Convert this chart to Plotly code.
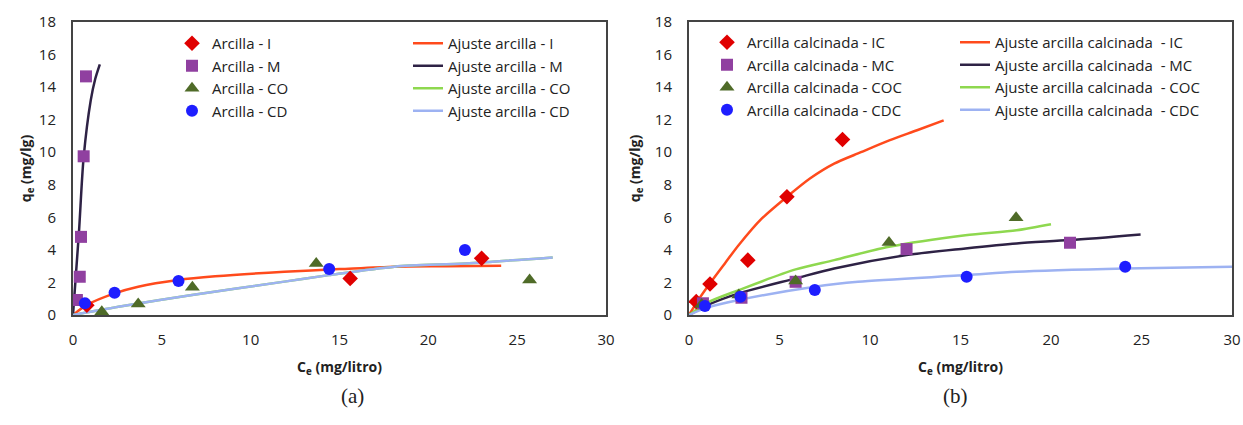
import plotly.graph_objects as go

# ---------- data: panel (a) arcilla ----------
I_x = [0.78, 15.6, 23.0]
I_y = [0.6, 2.25, 3.48]
M_x = [0.22, 0.38, 0.45, 0.6, 0.73]
M_y = [0.92, 2.35, 4.8, 9.75, 14.66]
CO_x = [1.62, 3.67, 6.72, 13.69, 25.7]
CO_y = [0.2, 0.67, 1.7, 3.17, 2.15]
CD_x = [0.67, 2.34, 5.94, 14.42, 22.06]
CD_y = [0.72, 1.37, 2.09, 2.82, 3.99]

fitI_x = [0, 0.78, 2.34, 3.67, 5.9, 8.0, 11.9, 15.0, 18.1, 21.0, 24.1]
fitI_y = [0, 0.62, 1.33, 1.74, 2.15, 2.38, 2.66, 2.82, 2.97, 3.0, 3.03]
fitM_x = [0, 0.33, 0.6, 1.0, 1.25, 1.51]
fitM_y = [0, 5.0, 9.7, 13.2, 14.5, 15.4]
fitCD_x = [0, 2.56, 6.7, 11.9, 14.4, 18.1, 22.1, 27.0]
fitCD_y = [0, 0.51, 1.23, 2.05, 2.45, 2.97, 3.17, 3.54]
fitCO_x = fitCD_x
fitCO_y = fitCD_y

# ---------- data: panel (b) arcilla calcinada ----------
IC_x = [0.4, 1.16, 3.25, 5.41, 8.48]
IC_y = [0.82, 1.9, 3.37, 7.26, 10.78]
MC_x = [0.77, 2.9, 5.89, 12.02, 21.05]
MC_y = [0.72, 1.06, 2.04, 4.05, 4.44]
COC_x = [0.7, 2.75, 5.89, 11.05, 18.07]
COC_y = [0.65, 1.23, 2.09, 4.46, 5.97]
CDC_x = [0.88, 2.84, 6.95, 15.34, 24.1]
CDC_y = [0.55, 1.12, 1.53, 2.35, 2.97]

fitIC_x = [0, 0.5, 1.16, 2.0, 2.75, 4.0, 5.41, 6.7, 8.02, 9.5, 11.1, 12.6, 14.07]
fitIC_y = [0, 0.9, 1.95, 3.2, 4.3, 5.9, 7.26, 8.4, 9.3, 10.0, 10.74, 11.35, 11.96]
fitMC_x = [0, 1.0, 2.75, 5.89, 8.02, 12.02, 15.27, 18.1, 21.05, 24.95]
fitMC_y = [0, 0.6, 1.33, 2.25, 2.86, 3.68, 4.09, 4.4, 4.6, 4.95]
fitCOC_x = [0, 1.0, 2.75, 5.89, 8.02, 11.05, 15.27, 18.1, 20.0]
fitCOC_y = [0, 0.75, 1.53, 2.8, 3.37, 4.19, 4.9, 5.21, 5.58]
fitCDC_x = [0, 1.0, 2.75, 6.95, 9.34, 15.34, 18.1, 24.1, 30.0]
fitCDC_y = [0, 0.45, 0.92, 1.74, 2.04, 2.45, 2.66, 2.86, 2.97]

x_ticks = [0, 5, 10, 15, 20, 25, 30]
y_ticks = [0, 2, 4, 6, 8, 10, 12, 14, 16, 18]

RED, PURPLE, OLIVE, BLUE = "#E00000", "#9040A0", "#4F6B28", "#1E1EFF"
L_RED, L_NAVY, L_GREEN, L_BLUE = "#FF4A1C", "#2E2245", "#8ED84F", "#9DB2F2"

FONT = "Open Sans"
fig = go.Figure()

def line(x, y, name, color, xa, ya, leg):
    fig.add_trace(go.Scatter(x=x, y=y, mode="lines", name=name,
                             line=dict(color=color, width=2.5, shape="spline", smoothing=0.8),
                             xaxis=xa, yaxis=ya, legend=leg))

def pts(x, y, name, color, sym, size, xa, ya, leg):
    fig.add_trace(go.Scatter(x=x, y=y, mode="markers", name=name,
                             marker=dict(color=color, symbol=sym, size=size),
                             xaxis=xa, yaxis=ya, legend=leg))

# panel a
line(fitI_x, fitI_y, "Ajuste arcilla - I", L_RED, "x", "y", "legend2")
line(fitM_x, fitM_y, "Ajuste arcilla - M", L_NAVY, "x", "y", "legend2")
line(fitCO_x, fitCO_y, "Ajuste arcilla - CO", L_GREEN, "x", "y", "legend2")
line(fitCD_x, fitCD_y, "Ajuste arcilla - CD", L_BLUE, "x", "y", "legend2")
pts(I_x, I_y, "Arcilla - I", RED, "diamond", 12, "x", "y", "legend")
pts(M_x, M_y, "Arcilla - M", PURPLE, "square", 12, "x", "y", "legend")
pts(CO_x, CO_y, "Arcilla - CO", OLIVE, "triangle-up", 13, "x", "y", "legend")
pts(CD_x, CD_y, "Arcilla - CD", BLUE, "circle", 12, "x", "y", "legend")

# panel b
line(fitIC_x, fitIC_y, "Ajuste arcilla calcinada  - IC", L_RED, "x2", "y2", "legend4")
line(fitMC_x, fitMC_y, "Ajuste arcilla calcinada  - MC", L_NAVY, "x2", "y2", "legend4")
line(fitCOC_x, fitCOC_y, "Ajuste arcilla calcinada  - COC", L_GREEN, "x2", "y2", "legend4")
line(fitCDC_x, fitCDC_y, "Ajuste arcilla calcinada  - CDC", L_BLUE, "x2", "y2", "legend4")
pts(IC_x, IC_y, "Arcilla calcinada - IC", RED, "diamond", 12, "x2", "y2", "legend3")
pts(MC_x, MC_y, "Arcilla calcinada - MC", PURPLE, "square", 12, "x2", "y2", "legend3")
pts(COC_x, COC_y, "Arcilla calcinada - COC", OLIVE, "triangle-up", 13, "x2", "y2", "legend3")
pts(CDC_x, CDC_y, "Arcilla calcinada - CDC", BLUE, "circle", 12, "x2", "y2", "legend3")

W, H = 1243, 425
ML, MR, MT, MB = 73, 11, 22, 110
PW, PH = W - ML - MR, H - MT - MB

def px_x(p):  # figure pixel -> paper x (plot-area relative)
    return (p - ML) / PW

def px_y(p):
    return 1 - (p - MT) / PH

axis_common = dict(showline=True, mirror=True, linecolor="#444444", linewidth=2,
                   showgrid=False, zeroline=False, ticks="", automargin=False,
                   tickfont=dict(family=FONT, size=15, color="#222"))

xtitle = dict(text="<b>C<sub>e</sub> (mg/litro)</b>", font=dict(family=FONT, size=14, color="#222"), standoff=14)
ytitle1 = dict(text="<b>q<sub>e</sub> (mg/lg)</b>", font=dict(family=FONT, size=14, color="#222"), standoff=4)
ytitle2 = dict(text="<b>q<sub>e</sub> (mg/lg)</b>", font=dict(family=FONT, size=14, color="#222"), standoff=11)

fig.update_layout(
    width=W, height=H,
    paper_bgcolor="white", plot_bgcolor="white",
    margin=dict(l=ML, r=MR, t=MT, b=MB, autoexpand=False),
    showlegend=True,
    xaxis=dict(domain=[0, px_x(606)], range=[0, 30], tickvals=x_ticks,
               anchor="y", title=xtitle, ticklabelstandoff=10, **axis_common),
    yaxis=dict(domain=[0, 1], range=[0, 18], tickvals=y_ticks,
               anchor="x", title=ytitle1, ticklabelstandoff=12, **axis_common),
    xaxis2=dict(domain=[px_x(689), 1], range=[0, 30], tickvals=x_ticks,
                anchor="y2", title=xtitle, ticklabelstandoff=10, **axis_common),
    yaxis2=dict(domain=[0, 1], range=[0, 18], tickvals=y_ticks,
                anchor="x2", title=ytitle2, ticklabelstandoff=12, **axis_common),
)

leg_common = dict(bgcolor="rgba(0,0,0,0)", font=dict(family=FONT, size=15, color="#222"),
                  orientation="v", xanchor="left", yanchor="top",
                  tracegroupgap=0, itemwidth=30)
fig.update_layout(
    legend=dict(x=px_x(172), y=px_y(27), **leg_common),
    legend2=dict(x=px_x(408), y=px_y(27), **leg_common),
    legend3=dict(x=px_x(707), y=px_y(26), **leg_common),
    legend4=dict(x=px_x(955), y=px_y(26), **leg_common),
)

fig.add_annotation(text="(a)", x=px_x(339), y=px_y(410), xref="paper", yref="paper",
                   showarrow=False, font=dict(family="Liberation Serif", size=21, color="#222"))
fig.add_annotation(text="(b)", x=px_x(970), y=px_y(410), xref="paper", yref="paper",
                   showarrow=False, font=dict(family="Liberation Serif", size=21, color="#222"))

fig.write_html("out.html", config={"displayModeBar": False},
               post_script="document.body.style.margin='0';document.body.style.overflow='hidden';")
